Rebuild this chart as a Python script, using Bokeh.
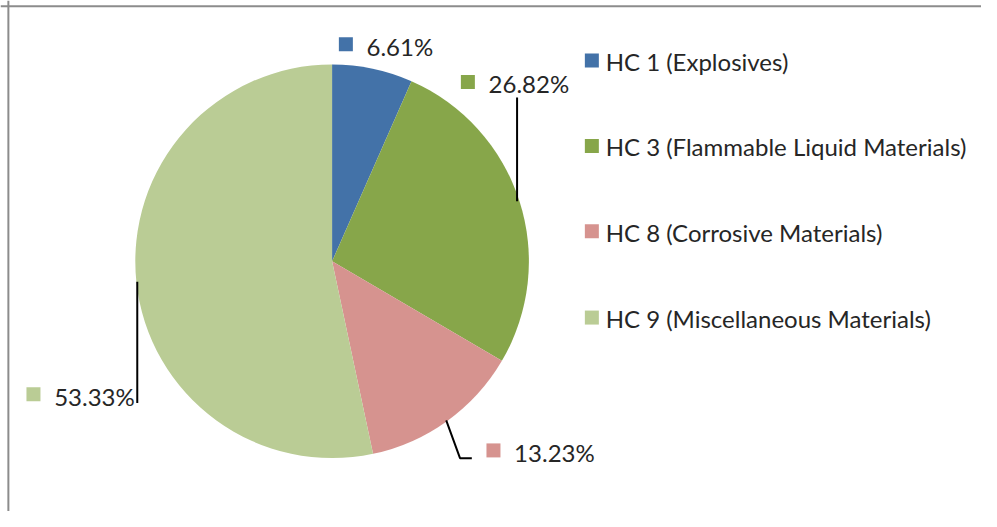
import math
from bokeh.plotting import figure
from bokeh.models import Range1d, Span, ColumnDataSource
from bokeh.core.properties import value
from bokeh.embed import file_html
from bokeh.resources import INLINE

# ---- data ----
categories = ["HC 1 (Explosives)", "HC 3 (Flammable Liquid Materials)",
              "HC 8 (Corrosive Materials)", "HC 9 (Miscellaneous Materials)"]
shares = [6.61, 26.82, 13.23, 53.33]
label_texts = ["6.61%", "26.82%", "13.23%", "53.33%"]
colors = ["#4372A8", "#87A64A", "#D6938F", "#BACC95"]

# ---- layout: data units are reference pixels (y flipped) ----
RW, RH = 997, 527
W, H = 981, 511


def fy(Y):
    return RH - Y


CX, CY, R = 337, fy(269), 200
FONT = value("Lato")
FS = "24px"
TXT = "#262626"

p = figure(width=W, height=H, x_range=Range1d(0, RW), y_range=Range1d(0, RH),
           x_axis_type=None, y_axis_type=None, output_backend="svg",
           toolbar_location=None, min_border=0)
p.grid.visible = False
p.outline_line_color = None
p.background_fill_color = "white"
p.border_fill_color = "white"

# wedges, clockwise from 12 o'clock
total = sum(shares)
starts, ends = [], []
cum = 0.0
for s in shares:
    starts.append(math.pi / 2 - 2 * math.pi * cum / total)
    cum += s
    ends.append(math.pi / 2 - 2 * math.pi * cum / total)
src = ColumnDataSource(dict(start=starts, end=ends, color=colors))
p.wedge(x=CX, y=CY, radius=R, start_angle="start", end_angle="end",
        direction="clock", fill_color="color", line_color=None, source=src)

# data labels (square marker + text)
lab_sq = [(351, 45), (475, 84), (501, 464), (33.5, 406)]
sq_x = [a for a, b in lab_sq]
sq_y = [fy(b) for a, b in lab_sq]
p.scatter(sq_x, sq_y, marker="square", size=14, fill_color=colors, line_color=None)
p.text([x + 21 for x in sq_x], [y - 2 for y in sq_y], text=label_texts,
       text_font=FONT, text_font_size=FS, text_baseline="middle",
       text_color=TXT)

# leader lines
p.line([525, 525], [fy(100), fy(207)], line_color="black", line_width=2)
p.line([453, 467, 479], [fy(433), fy(472), fy(472)], line_color="black", line_width=2)
p.line([139, 139], [fy(290), fy(415)], line_color="black", line_width=2)

# legend
leg_x = 601
leg_ys = [fy(Y) for Y in (62, 150, 238, 327)]
p.scatter([leg_x] * len(categories), leg_ys, marker="square", size=14,
          fill_color=colors, line_color=None)
p.text([leg_x + 14] * len(categories), [y - 1 for y in leg_ys], text=categories,
       text_font=FONT, text_font_size=FS, text_baseline="middle",
       text_color=TXT)

# chart-area border (left and top only visible in reference)
p.add_layout(Span(location=8, dimension="height", line_color="#8C8C8C", line_width=2))
p.add_layout(Span(location=fy(6), dimension="width", line_color="#8C8C8C", line_width=2))

open("out.html", "w").write(file_html(p, INLINE))
